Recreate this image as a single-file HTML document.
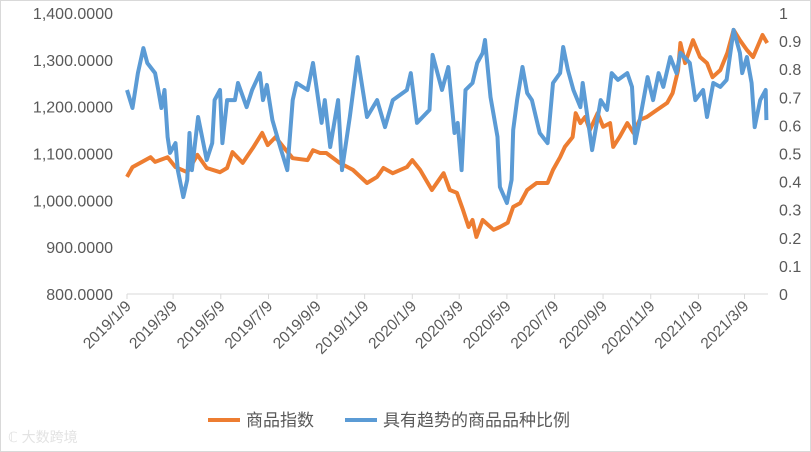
<!DOCTYPE html>
<html><head><meta charset="utf-8">
<style>
html,body{margin:0;padding:0;background:#fff;}
#wrap{position:relative;width:811px;height:452px;overflow:hidden;}
svg{position:absolute;left:0;top:0;font-family:"Liberation Sans","Noto Sans CJK SC",sans-serif;}
</style></head>
<body>
<div id="wrap">
<svg id="chart" width="811" height="452">
<rect x="0.5" y="0.5" width="810" height="451" fill="#fff" stroke="#d9d9d9"/>
<line x1="127" y1="294" x2="768" y2="294" stroke="#d9d9d9" stroke-width="1"/>
<g id="xticks"></g>
<g id="yleft"></g>
<g id="yright"></g>
<g id="series"></g>
<g>
<g>
<line x1="208" y1="420" x2="240" y2="420" stroke="#ED7D31" stroke-width="4"/>
<text x="246" y="426" font-size="17" fill="#595959">商品指数</text>
</g>
<g>
<line x1="345" y1="420" x2="377" y2="420" stroke="#5B9BD5" stroke-width="4"/>
<text x="383" y="426" font-size="17" fill="#595959">具有趋势的商品品种比例</text>
</g>
</g>
<text x="8" y="442" font-size="14" fill="#e3e3e3">ℂ 大数跨境</text>
</svg>
</div>
<script>
const xTickLabels=["2019/1/9","2019/3/9","2019/5/9","2019/7/9","2019/9/9","2019/11/9","2020/1/9","2020/3/9","2020/5/9","2020/7/9","2020/9/9","2020/11/9","2021/1/9","2021/3/9"];
const leftTicks=[800,900,1000,1100,1200,1300,1400];
const rightTicks=[0,0.1,0.2,0.3,0.4,0.5,0.6,0.7,0.8,0.9,1];
const indexDays=[0,7,30,36,52,62,77,90,102,119,128,135,148,161,173,180,190,200,212,231,238,247,255,272,289,307,320,328,340,358,365,375,390,405,413,422,430,437,442,447,455,469,477,487,494,503,512,524,538,545,554,560,570,574,580,586,592,602,609,618,622,630,640,648,656,665,678,691,698,705,708,714,724,733,742,749,759,768,776,784,793,801,813,819];
const indexValues=[1050,1071,1092,1082,1092,1071,1060,1097,1069,1060,1069,1103,1080,1112,1144,1118,1135,1114,1090,1086,1107,1101,1101,1080,1065,1037,1050,1069,1058,1071,1086,1065,1022,1058,1022,1016,979,943,958,922,958,937,943,952,986,994,1022,1037,1037,1065,1092,1114,1135,1186,1165,1178,1150,1186,1157,1165,1114,1135,1165,1144,1172,1178,1193,1208,1229,1278,1336,1293,1342,1306,1293,1263,1278,1315,1364,1342,1321,1306,1353,1336];
const ratioDays=[0,7,14,21,26,36,40,44,48,52,55,62,65,72,77,80,83,91,102,109,112,119,122,128,138,142,153,160,170,174,179,186,196,205,212,217,231,238,249,253,260,270,275,285,295,307,320,330,340,358,363,371,387,391,403,411,419,423,428,433,442,448,455,458,465,474,477,486,492,494,499,506,512,518,528,538,545,554,558,564,571,580,583,595,606,614,620,628,640,646,650,656,666,673,680,686,695,703,708,720,727,737,742,750,759,767,776,784,787,793,799,803,810,817,818];
const ratioValues=[.726,.662,.786,.875,.822,.786,.726,.662,.726,.559,.502,.537,.441,.345,.406,.573,.441,.630,.477,.537,.690,.726,.537,.690,.690,.751,.665,.726,.786,.690,.744,.619,.523,.441,.690,.751,.726,.822,.609,.690,.523,.690,.441,.630,.843,.630,.690,.594,.690,.726,.786,.609,.655,.851,.726,.808,.573,.609,.441,.726,.751,.822,.858,.904,.701,.559,.381,.324,.406,.584,.690,.808,.715,.690,.573,.537,.751,.786,.879,.797,.726,.665,.751,.512,.690,.655,.786,.762,.786,.737,.537,.619,.772,.690,.786,.737,.843,.786,.858,.822,.690,.726,.630,.751,.737,.762,.940,.858,.786,.843,.751,.594,.690,.726,.619];

const NS="http://www.w3.org/2000/svg";
const X0=127,X1=768,DMAX=820,YT=13,YB=294;
const start=new Date(2019,0,9);
function xScale(d){return X0+d*(X1-X0)/DMAX;}
function yLeft(v){return YB-(v-800)/600*(YB-YT);}
function yRight(v){return YB-v*(YB-YT);}
function dayOf(label){const p=label.split('/').map(Number);return Math.round((new Date(p[0],p[1]-1,p[2])-start)/86400000);}
function mk(tag,attrs,parent){const e=document.createElementNS(NS,tag);for(const k in attrs)e.setAttribute(k,attrs[k]);parent.appendChild(e);return e;}

const gx=document.getElementById('xticks');
xTickLabels.forEach(l=>{
  const x=xScale(dayOf(l));
  const t=mk('line',{x1:x,y1:YB,x2:x,y2:YB+5,stroke:'#d9d9d9'},gx);
  
  
  const tx=mk('text',{x:x+5,y:YB+13,'font-size':15.5,fill:'#595959','text-anchor':'end',transform:`rotate(-45 ${x+5} ${YB+13})`},gx);
  tx.textContent=l;
  
  
});
const gl=document.getElementById('yleft');
leftTicks.forEach(v=>{
  const t=mk('text',{x:113,y:yLeft(v)+6,'font-size':16,fill:'#595959','text-anchor':'end'},gl);
  t.textContent=v.toLocaleString('en-US',{minimumFractionDigits:4,maximumFractionDigits:4});
  
  
});
const gr=document.getElementById('yright');
rightTicks.forEach(v=>{
  const t=mk('text',{x:779,y:yRight(v)+6,'font-size':16,fill:'#595959'},gr);
  t.textContent=String(Math.round(v*10)/10);
  
  
});
const gs=document.getElementById('series');
function pathFrom(days,vals,yf){const n=Math.min(days.length,vals.length);let d='';for(let i=0;i<n;i++){d+=(i?'L':'M')+xScale(days[i]).toFixed(1)+','+yf(vals[i]).toFixed(1);}return d;}
const pi=mk('path',{d:pathFrom(indexDays,indexValues,yLeft),fill:'none',stroke:'#ED7D31','stroke-width':4,'stroke-linejoin':'round'},gs);


const pr=mk('path',{d:pathFrom(ratioDays,ratioValues,yRight),fill:'none',stroke:'#5B9BD5','stroke-width':4,'stroke-linejoin':'round'},gs);


</script>
</body></html>
